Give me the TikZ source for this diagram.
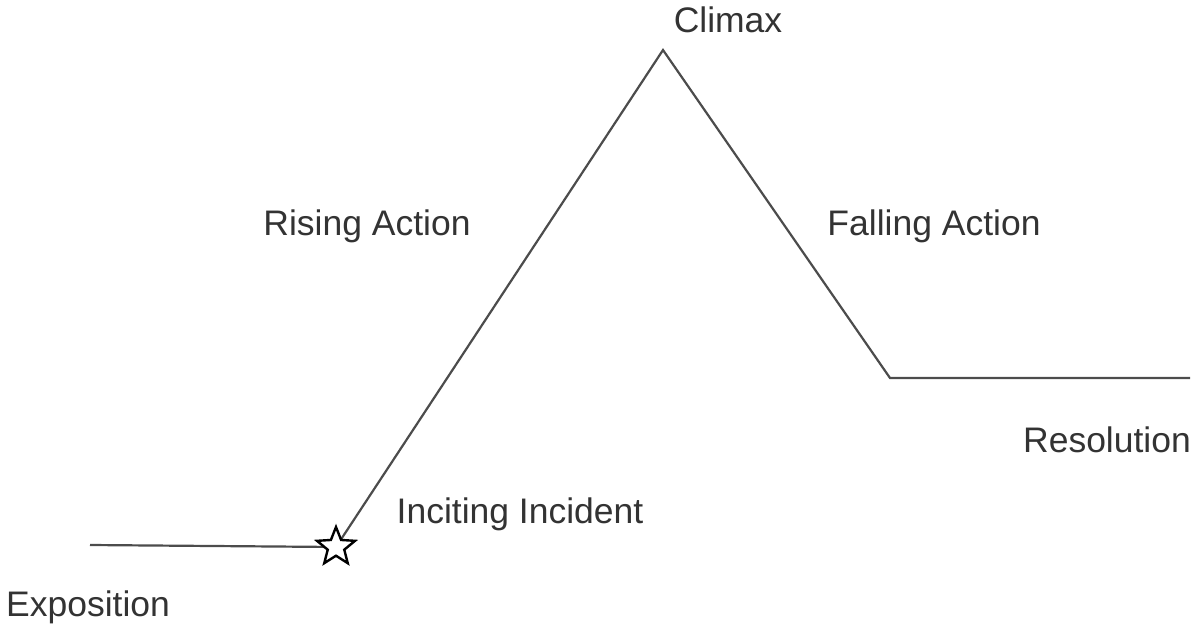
\documentclass[tikz,border=0pt]{standalone}
\usepackage{fontspec}
\setmainfont{Liberation Sans}
\usetikzlibrary{shapes.geometric}
\begin{document}
\begin{tikzpicture}[x=1pt,y=-1pt,
  lbl/.style={font=\fontsize{35.5}{40}\selectfont,text=black!80},
  plot/.style={draw=black!70,line width=2.2pt}]
\useasboundingbox (0,0) rectangle (1200,635);
\coordinate (s) at (90,545);
\coordinate (top) at (663,50);
\coordinate (fb) at (890,378);
\coordinate (e) at (1190,378);
\coordinate (sc) at (336,547);
\draw[plot] (s) -- (sc) -- (top) -- (fb) -- (e);
\node[star,star points=5,star point ratio=2.3,draw=black,line width=2.4pt,fill=white,minimum size=40pt,inner sep=0pt] (star) at (sc) {};
\node[lbl] (climax) at (728,20) {Climax};
\node[lbl] (rising) at (367,226) {Rising Action};
\node[lbl] (falling) at (934,226) {Falling Action};
\node[lbl] (res) at (1107,440) {Resolution};
\node[lbl] (inc) at (520,514) {Inciting Incident};
\node[lbl] (exp) at (88,607) {Exposition};
\end{tikzpicture}
\end{document}
